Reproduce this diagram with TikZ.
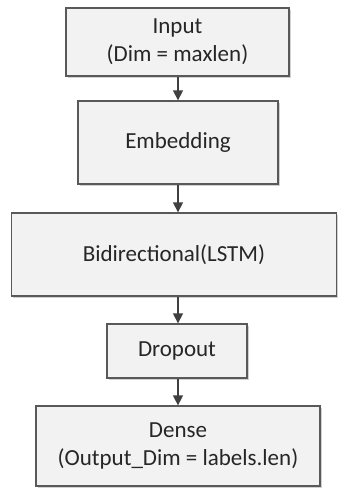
\documentclass[tikz,border=0pt]{standalone}
\usepackage{fontspec}
\setmainfont{Carlito}
\usetikzlibrary{arrows.meta,shadows}
\definecolor{boxline}{HTML}{595959}
\definecolor{boxfill}{HTML}{F2F2F2}
\definecolor{arrcol}{HTML}{404040}
\begin{document}
\begin{tikzpicture}[x=1pt,y=1pt,
  layer/.style={draw=boxline, line width=1.3pt, fill=boxfill, rectangle,
    inner sep=0pt, align=center, text=black!85,
    font=\fontsize{23}{28}\selectfont,
    drop shadow={shadow xshift=1.5pt, shadow yshift=-1.5pt, fill=black, opacity=0.18}},
  arr/.style={draw=arrcol, line width=1.3pt, -{Triangle[width=10pt,length=10pt]}}]
\useasboundingbox[fill=white] (0,0) rectangle (338,-488);
\node[layer, minimum width=223pt, minimum height=68pt] (inp) at (177.5,-42) {Input\\(Dim = maxlen)};
\node[layer, minimum width=200pt, minimum height=83pt] (emb) at (178,-142.5) {Embedding};
\node[layer, minimum width=325pt, minimum height=83pt] (bi) at (174,-254.5) {Bidirectional(LSTM)};
\node[layer, minimum width=140pt, minimum height=54pt] (drop) at (177,-351) {Dropout};
\node[layer, minimum width=284pt, minimum height=80pt] (dense) at (178,-446) {Dense\\(Output\_Dim = labels.len)};
\draw[arr] (inp.south -| emb.north) -- (emb.north);
\draw[arr] (emb.south) -- (emb.south |- bi.north);
\draw[arr] (emb.south |- bi.south) -- (emb.south |- drop.north);
\draw[arr] (emb.south |- drop.south) -- (emb.south |- dense.north);
\end{tikzpicture}
\end{document}
